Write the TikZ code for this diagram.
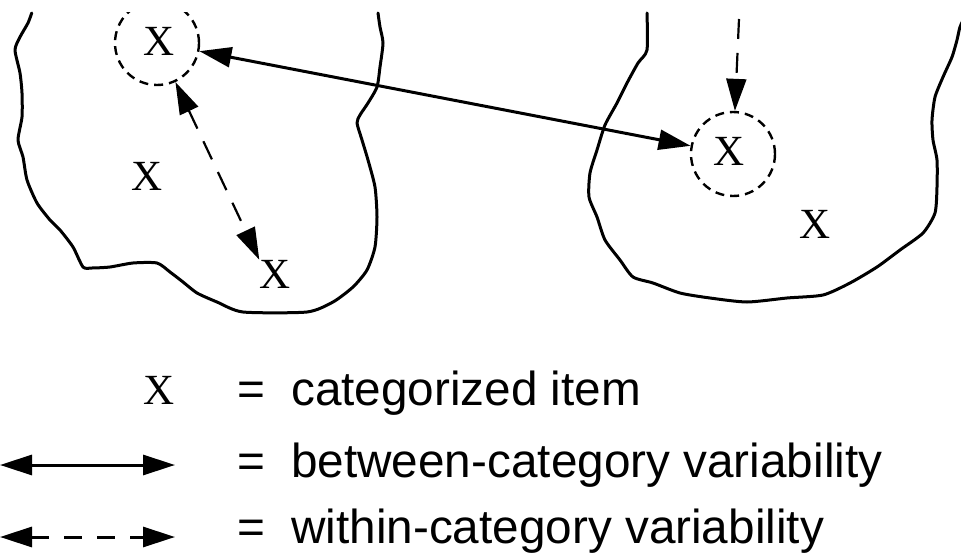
\documentclass[tikz,border=0pt]{standalone}
\usepackage{fontspec}
\setmainfont{Liberation Sans}
\newfontfamily\serifx{Liberation Serif}
\usetikzlibrary{arrows.meta}
\begin{document}
\begin{tikzpicture}[x=1pt,y=-1pt,
  >={Triangle[length=32pt,width=20pt]},
  blob/.style={line width=3pt, line join=round, line cap=round},
  dcirc/.style={circle, draw, line width=2.4pt, dash pattern=on 9pt off 6pt, minimum size=84pt, inner sep=0pt},
  item/.style={font=\serifx\fontsize{43}{43}\selectfont, inner sep=0pt},
  betw/.style={line width=3pt},
  withn/.style={line width=2.2pt, dash pattern=on 20pt off 14pt},
  legtext/.style={anchor=base west, inner sep=0pt, font=\fontsize{47.7}{50}\selectfont},
  eqsign/.style={anchor=base, inner sep=0pt, font=\fontsize{47.7}{50}\selectfont},
]
\useasboundingbox (0,0) rectangle (961,559);

% left category outline
\draw[blob] plot[smooth, tension=0.4] coordinates {
 (31.7,13) (28,23) (20,37) (15,50) (20,73) (22,93) (22,117) (18,140)
 (23,157) (27,180) (37,203) (50,220) (60,230) (73,247) (83,267) (92,268)
 (110,267) (133,263) (157,263) (170,272) (183,282) (197,293) (217,302)
 (243,312) (307,312) (333,302) (353,287) (367,270) (375,247) (377,217)
 (375,187) (368,160) (362,140) (357,123) (360,115) (368,103) (377,87)
 (380,67) (383,43) (380,27) (378,13)};

% right category outline
\draw[blob] plot[smooth, tension=0.4] coordinates {
 (647,13) (647,50) (638,63) (627,83) (617,103) (605,125) (597,150)
 (590,173) (589,197) (597,217) (605,240) (620,260) (633,277) (653,283)
 (680,293) (710,298) (747,302) (787,298) (823,295) (850,283) (877,267)
 (900,250) (923,233) (935,213) (937,187) (937,160) (933,140) (932,120)
 (935,97) (943,77) (952,57) (957,40) (960,27) (966,14)};

% dashed circles
\begin{scope}
  \clip (0,13) rectangle (961,559);
  \node[dcirc] (c1) at (157,43) {};
\end{scope}
\node[dcirc] (c2) at (733,154) {};

% items
\node[item] (x1) at (159,41) {X};
\node[item] (x2) at (147.5,176) {X};
\node[item] (x3) at (275,274) {X};
\node[item] (x4) at (729.5,151.5) {X};
\node[item] (x5) at (815,224) {X};

% connectors
\draw[betw,<->] (c1) -- (c2);
\draw[withn,<->] (c1) -- (x3.north west);
\coordinate (top) at (739,19);
\draw[withn,->] (top) -- (c2);

% legend
\node[item, anchor=base] (lx) at (159.5,404) {X};
\node[eqsign] (e1) at (251,405) {=};
\node[legtext] (t1) at (291,405) {categorized item};

\coordinate (a1) at (0,465);
\coordinate (a2) at (175,465);
\draw[line width=3pt,<->] (a1) -- (a2);
\node[eqsign] (e2) at (251,477) {=};
\node[legtext] (t2) at (291,477) {between-category variability};

\coordinate (b1) at (0,537);
\coordinate (b2) at (175,537);
\draw[line width=3pt, dash pattern=on 18pt off 15pt, <->] (b1) -- (b2);
\node[eqsign] (e3) at (251,543) {=};
\node[legtext] (t3) at (291,543) {within-category variability};
\end{tikzpicture}
\end{document}
